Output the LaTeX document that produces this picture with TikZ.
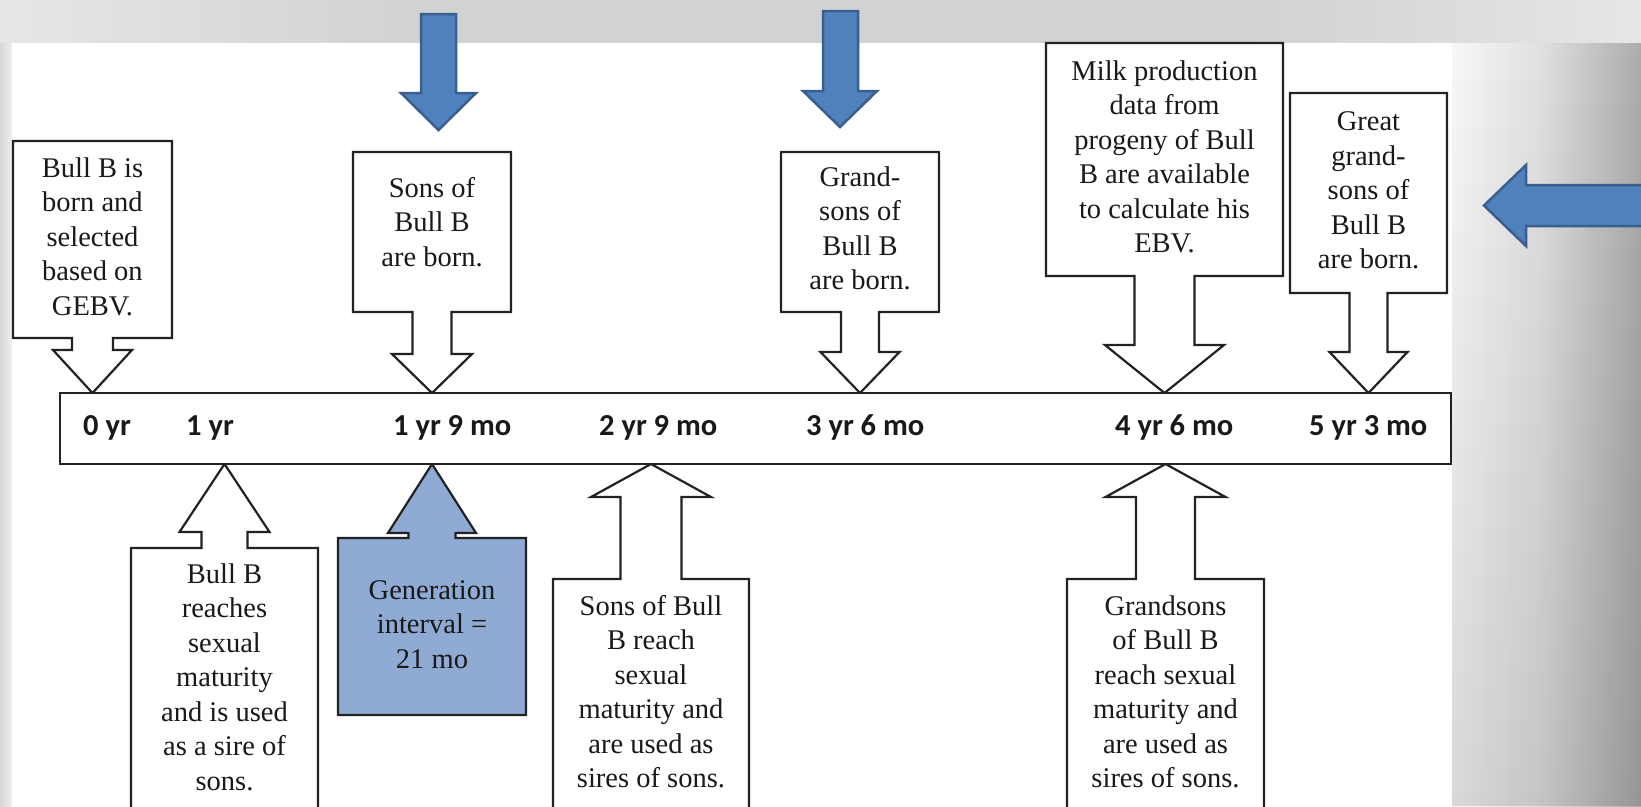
\documentclass[tikz,border=0pt]{standalone}
\usepackage{fontspec}
\setmainfont{Liberation Serif}
\newfontfamily\barfont{Carlito}
\usetikzlibrary{fadings}

\definecolor{stripgray}{HTML}{D2D2D2}
\definecolor{stripend}{HTML}{E6E6E6}
\definecolor{officeblue}{HTML}{4F81BD}
\definecolor{officeedge}{HTML}{3A5F8F}
\definecolor{intervalblue}{HTML}{8FAAD3}
\definecolor{inkline}{HTML}{222222}

\pgfdeclarelayer{backdrop}
\pgfdeclarelayer{shapes}
\pgfsetlayers{backdrop,shapes,main}

\tikzfading[name=fadeup, top color=transparent!100, bottom color=transparent!0]

% callout box above the bar: #1 text node, #2 left, #3 right, #4 top, #5 bottom,
% #6 stem half width, #7 head half width, #8 head base y
\newcommand\downcall[8]{%
  \pgfmathsetmacro\cx{(#2+#3)/2}%
  \draw[callout] (#2,#4) -- (#3,#4) -- (#3,#5) -- (\cx+#6,#5) -- (\cx+#6,#8)
    -- (\cx+#7,#8) -- (bar.north -| #1) -- (\cx-#7,#8) -- (\cx-#6,#8)
    -- (\cx-#6,#5) -- (#2,#5) -- cycle;}
% callout box below the bar, same arguments, #9 style
\newcommand\upcall[9]{%
  \pgfmathsetmacro\cx{(#2+#3)/2}%
  \draw[#9] (#2,#5) -- (#2,#4) -- (\cx-#6,#4) -- (\cx-#6,#8) -- (\cx-#7,#8)
    -- (bar.south -| #1) -- (\cx+#7,#8) -- (\cx+#6,#8) -- (\cx+#6,#4)
    -- (#3,#4) -- (#3,#5) -- cycle;}

\begin{document}
\begin{tikzpicture}[x=1pt,y=-1pt,
  txt/.style={align=center, anchor=base, inner sep=0pt,
    font=\fontsize{28.5}{34.5}\selectfont, text=black!90},
  tick/.style={anchor=base west, inner sep=0pt,
    font=\barfont\bfseries\fontsize{30.5}{36}\selectfont, text=black!90},
  callout/.style={draw=inkline, line width=2.2pt, fill=white, line join=miter},
  bluebox/.style={draw=inkline, line width=2.2pt, fill=intervalblue, line join=miter},
  bluearrow/.style={draw=officeedge, line width=2.5pt, fill=officeblue, line join=miter}]

\useasboundingbox (0,0) rectangle (1641,806);
\clip (0,0) rectangle (1641,806);

% slide background
\begin{pgfonlayer}{backdrop}
  \fill[stripgray] (0,0) rectangle (1641,806);
  \shade[left color=stripend, right color=stripgray] (0,0) rectangle (420,43);
  \shade[left color=stripgray, right color=stripend] (1250,0) rectangle (1641,43);
  \shade[left color=black!16, right color=black!6] (0,43) rectangle (12,806);
  \fill[white] (12,43) rectangle (1452,806);
  \shade[left color=black!3, right color=black!12] (1452,43) rectangle (1540,806);
  \shade[left color=black!12, right color=black!33] (1540,43) rectangle (1641,806);
  \fill[black, opacity=0.12, path fading=fadeup] (1452,43) rectangle (1641,806);
\end{pgfonlayer}

% time line
\node[draw=inkline, line width=2.4pt, fill=white, outer sep=0pt, inner sep=0pt,
  minimum width=1391pt, minimum height=71pt, anchor=north west] (bar) at (60,393) {};
\node[tick] (t0) at (83,435) {0 yr};
\node[tick] (t1) at (186,435) {1 yr};
\node[tick] (t2) at (393,435) {1 yr 9 mo};
\node[tick] (t3) at (599,435) {2 yr 9 mo};
\node[tick] (t4) at (806,435) {3 yr 6 mo};
\node[tick] (t5) at (1115,435) {4 yr 6 mo};
\node[tick] (t6) at (1309,435) {5 yr 3 mo};

% events above the line (positioned by the baseline of their last line)
\node[txt] (born) at (92.5,315) {Bull B is\\born and\\selected\\based on\\GEBV.};
\node[txt] (sons) at (432,266) {Sons of\\Bull B\\are born.};
\node[txt] (grand) at (860,289.5) {Grand-\\sons of\\Bull B\\are born.};
\node[txt] (milk) at (1164.5,252.5) {Milk production\\data from\\progeny of Bull\\B are available\\to calculate his\\EBV.};
\node[txt] (great) at (1368.5,268.5) {Great\\grand-\\sons of\\Bull B\\are born.};

% events below the line
\node[txt] (mature) at (224.5,790) {Bull B\\reaches\\sexual\\maturity\\and is used\\as a sire of\\sons.};
\node[txt] (interval) at (432,668) {Generation\\interval =\\21 mo};
\node[txt] (sonsmature) at (651,787.5) {Sons of Bull\\B reach\\sexual\\maturity and\\are used as\\sires of sons.};
\node[txt] (grandmature) at (1165.5,787.5) {Grandsons\\of Bull B\\reach sexual\\maturity and\\are used as\\sires of sons.};

\begin{pgfonlayer}{shapes}
  \downcall{born}{13}{172}{141}{338}{20.5}{39.5}{350}
  \downcall{sons}{353}{511}{152}{312}{19.5}{40}{354}
  \downcall{grand}{781}{939}{152}{312}{19}{39.5}{352}
  \downcall{milk}{1046}{1283}{43}{276}{30}{59.5}{345}
  \downcall{great}{1290}{1447}{93}{293}{19}{39}{352}

  \upcall{mature}{131}{318}{548}{830}{23}{45}{532}{callout}
  \upcall{interval}{338}{526}{538}{715}{23.5}{44}{533}{bluebox}
  \upcall{sonsmature}{553}{749}{579}{830}{30.5}{60}{497}{callout}
  \upcall{grandmature}{1067}{1264}{579}{830}{29.5}{60}{497}{callout}

  % highlight arrows
  \draw[bluearrow] (421,14) -- (456,14) -- (456,93) -- (476,93) -- (438.5,130)
    -- (401,93) -- (421,93) -- cycle;
  \draw[bluearrow] (823,11) -- (858,11) -- (858,91) -- (877,91) -- (840,127)
    -- (803,91) -- (823,91) -- cycle;
  \draw[bluearrow] (1650,185) -- (1526,185) -- (1526,165) -- (1484,205.5)
    -- (1526,246) -- (1526,226) -- (1650,226) -- cycle;
\end{pgfonlayer}
\end{tikzpicture}
\end{document}
